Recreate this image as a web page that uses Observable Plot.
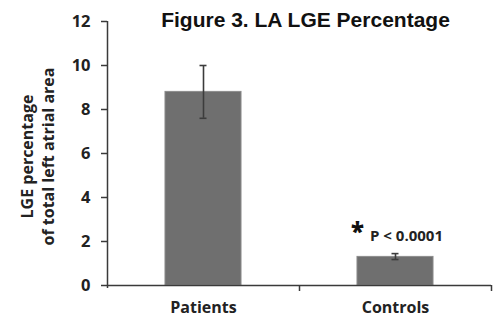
<!DOCTYPE html>
<html>
<head>
<meta charset="utf-8">
<script src="https://cdn.jsdelivr.net/npm/d3@7"></script>
<script src="https://cdn.jsdelivr.net/npm/@observablehq/plot@0.6"></script>
<style>
  html, body { margin: 0; padding: 0; background: #fff; }
</style>
</head>
<body>
<div id="chart"></div>
<script>
const categories = ["Patients", "Controls"];
const means = [8.8, 1.3];
const errLow = [7.6, 1.18];
const errHigh = [10.0, 1.45];
const yTicks = [0, 2, 4, 6, 8, 10, 12];
const titleText = "Figure 3. LA LGE Percentage";
const yLabel = "LGE percentage\nof total left atrial area";
const starText = "*";
const pText = "P < 0.0001";

const rows = categories.map((c, i) => ({cat: c, mean: means[i], lo: errLow[i], hi: errHigh[i]}));

const W = 500, H = 318;
const mL = 107, mR = 9, mT = 21, mB = 33;
const bw = (W - mL - mR) / categories.length;
const barInset = bw * 0.302;
const capInset = (bw - 7) / 2;
const axisColor = "#3a3a3a";
const font = "'Open Sans', sans-serif";

const chart = Plot.plot({
  width: W,
  height: H,
  marginLeft: mL,
  marginRight: mR,
  marginTop: mT,
  marginBottom: mB,
  style: {fontFamily: font, fontWeight: 700, color: "#222", background: "#fff"},
  x: {domain: categories, padding: 0, label: null},
  y: {domain: [0, 12], ticks: yTicks, label: null},
  marks: [
    Plot.barY(rows, {x: "cat", y: "mean", fill: "#6f6f6f", stroke: "#8c8c8c", strokeWidth: 1, insetLeft: barInset, insetRight: barInset}),
    Plot.ruleX(rows, {x: "cat", y1: "lo", y2: "hi", stroke: "#3c3c3c", strokeWidth: 1.6}),
    Plot.tickY(rows, {x: "cat", y: "hi", stroke: "#3c3c3c", strokeWidth: 1.6, insetLeft: capInset, insetRight: capInset}),
    Plot.tickY(rows, {x: "cat", y: "lo", stroke: "#3c3c3c", strokeWidth: 1.6, insetLeft: capInset, insetRight: capInset}),
    Plot.axisY({ticks: yTicks, tickSize: 6, tickPadding: 11, fontSize: 16.5, stroke: axisColor, strokeWidth: 1.5, tickFormat: d3.format("d")}),
    Plot.axisX({tickSize: 0, tickPadding: 16, fontSize: 16}),
    Plot.ruleY([0], {stroke: axisColor, strokeWidth: 1.5}),
    Plot.ruleX([categories[0]], {dx: -bw / 2, stroke: axisColor, strokeWidth: 1.5, y1: 0, y2: 12, insetTop: 3}),
    Plot.ruleX(categories, {x: d => d, dx: bw / 2, y1: 0, y2: 0, insetBottom: -6, stroke: axisColor, strokeWidth: 1.5}),
    Plot.text([titleText], {text: d => d, frameAnchor: "top", dx: 6, dy: -1, lineAnchor: "middle", fontSize: 21, fontWeight: 700, fontFamily: "'Liberation Sans', Arial, sans-serif", fill: "#111"}),
    Plot.text([yLabel], {text: d => d, frameAnchor: "left", textAnchor: "middle", rotate: -90, dx: -71, dy: 3, lineHeight: 1.31, fontSize: 16, fontWeight: 700, fill: "#222"}),
    Plot.text([rows[1]], {x: "cat", y: "hi", text: () => starText, dx: -38, dy: -21, fontSize: 24, fontWeight: 800, fill: "#111"}),
    Plot.text([rows[1]], {x: "cat", y: "hi", text: () => pText, dx: 11, dy: -17, fontSize: 15, fontWeight: 700, fill: "#222"})
  ]
});
document.getElementById("chart").appendChild(chart);
</script>
</body>
</html>
